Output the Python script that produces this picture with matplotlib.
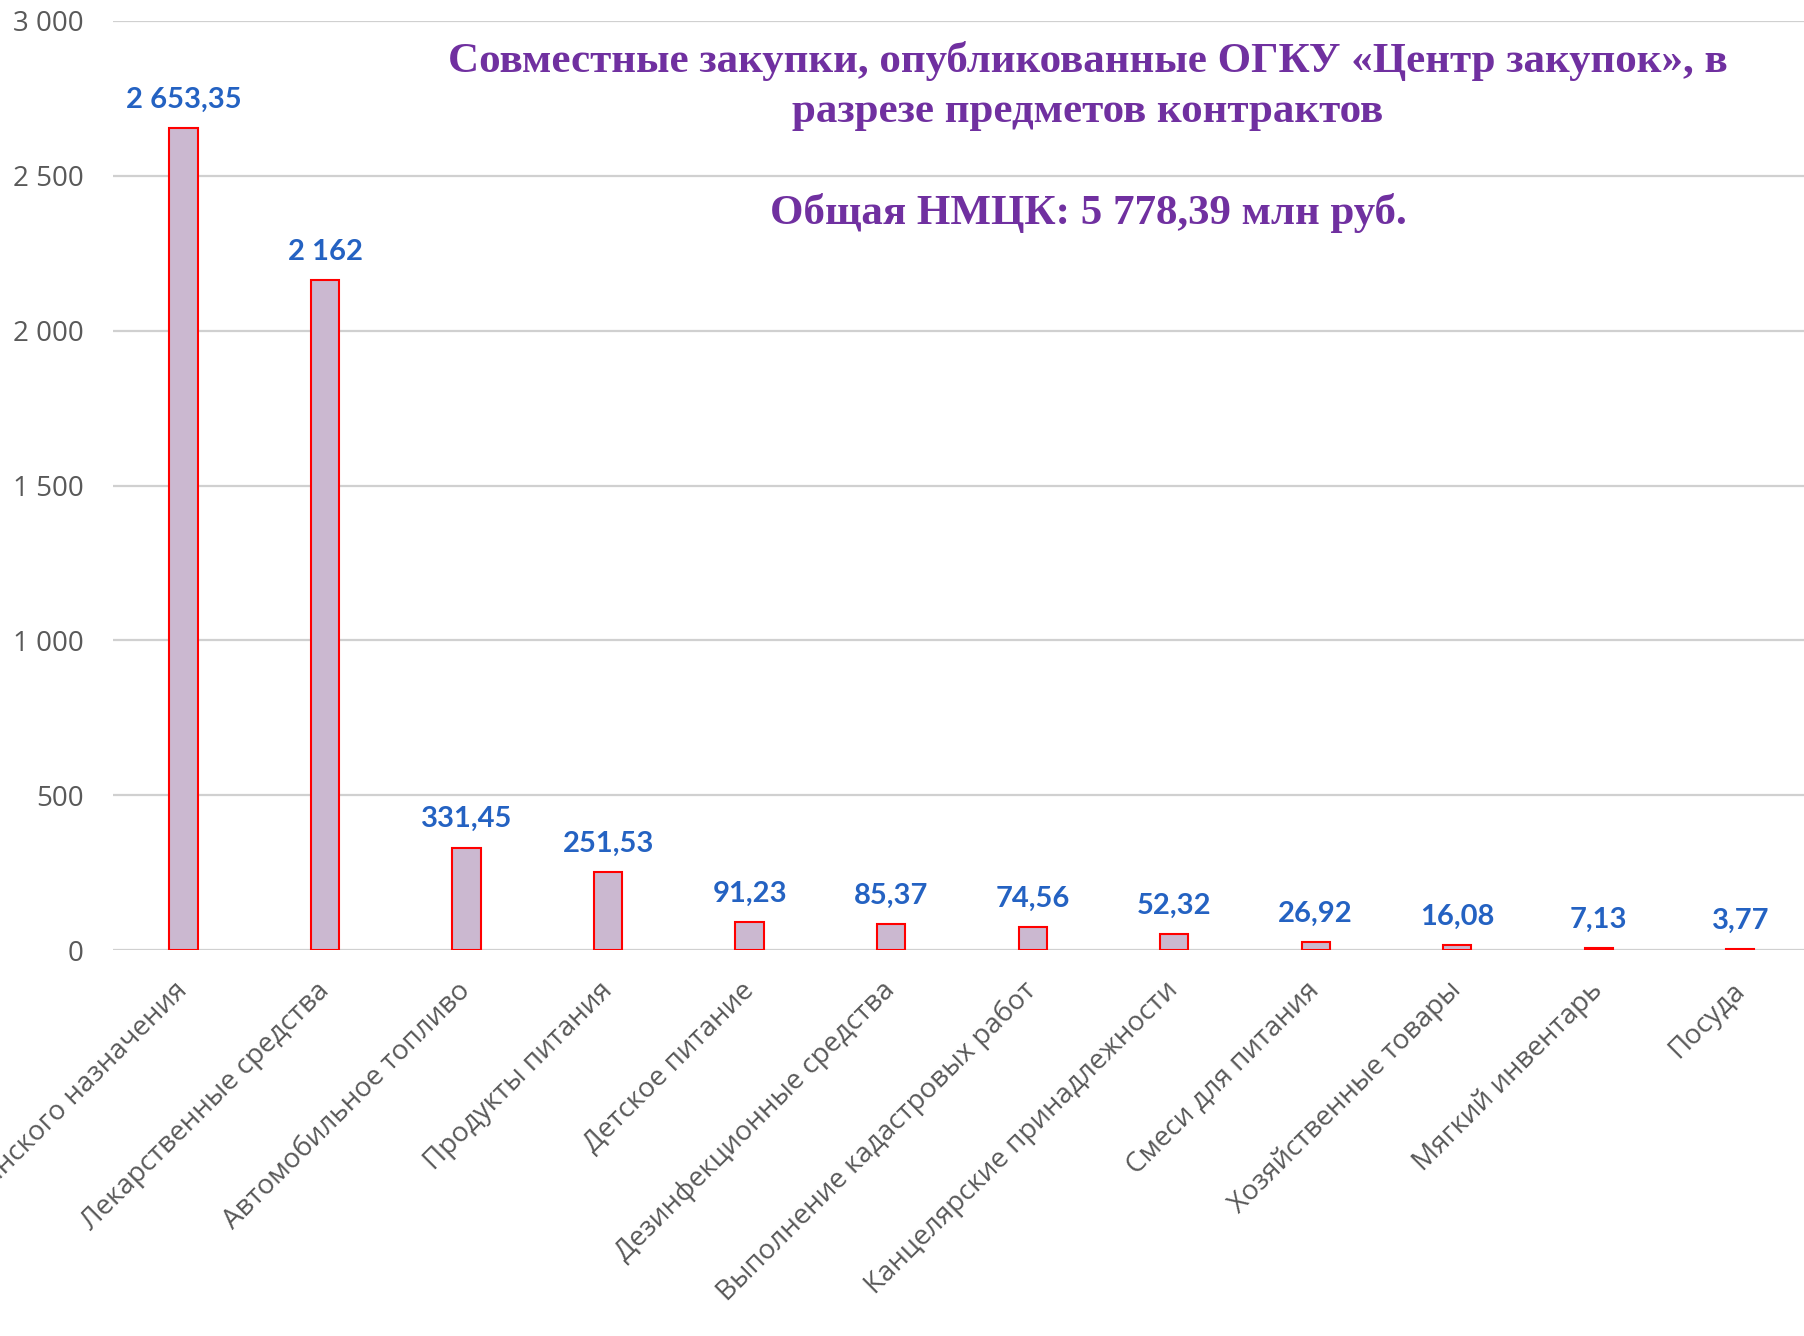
import matplotlib.pyplot as plt
from matplotlib.ticker import FuncFormatter


#------------------------------------------------------------------------------
# Data

categories = [
    "Изделия медицинского назначения",
    "Лекарственные средства",
    "Автомобильное топливо",
    "Продукты питания",
    "Детское питание",
    "Дезинфекционные средства",
    "Выполнение кадастровых работ",
    "Канцелярские принадлежности",
    "Смеси для питания",
    "Хозяйственные товары",
    "Мягкий инвентарь",
    "Посуда",
]
values = [2653.35, 2162, 331.45, 251.53, 91.23, 85.37, 74.56, 52.32, 26.92, 16.08, 7.13, 3.77]
y_ticks = [0, 500, 1000, 1500, 2000, 2500, 3000]

title_main = "Совместные закупки, опубликованные ОГКУ «Центр закупок», в\nразрезе предметов контрактов"
title_total = "Общая НМЦК: 5 778,39 млн руб."


def ru_number(v):
    # 2653.35 -> "2 653,35", 2162 -> "2 162"
    if float(v).is_integer():
        s = "{:,.0f}".format(v)
    else:
        s = "{:,.2f}".format(v)
    return s.replace(",", " ").replace(".", ",")


#------------------------------------------------------------------------------
# Plot

fig = plt.figure(figsize=(18.04, 13.36), dpi=100)
ax = fig.add_axes([0.0625, 0.2887, 0.9375, 0.6958])

x = list(range(len(categories)))
ax.bar(x, values, width=0.2, color="#cbb8d0", edgecolor="#ff0000", linewidth=1.5, zorder=3)

for xi, v in zip(x, values):
    ax.annotate(ru_number(v), (xi, v), xytext=(0, 11), textcoords="offset points",
                ha="center", va="bottom", fontsize=21, fontweight="bold",
                family="Lato", color="#2462c2")

ax.set_xlim(-0.5, 11.45)
ax.set_ylim(0, 3000)
ax.set_yticks(y_ticks)
ax.yaxis.set_major_formatter(FuncFormatter(lambda v, p: ru_number(v)))
ax.grid(axis="y", color="#d0d0d0", linewidth=1.6, zorder=0)
ax.set_xticks(x)
ax.set_xticklabels(categories, rotation=45, ha="right", va="center",
                   rotation_mode="anchor", fontsize=20, family="Open Sans", color="#595959")

ax.tick_params(axis="x", length=0, pad=26)
ax.tick_params(axis="y", length=0, pad=21, labelsize=20, labelcolor="#595959")
for lab in ax.get_yticklabels():
    lab.set_family("Open Sans")
for s in ax.spines.values():
    s.set_visible(False)

fig.text(1088 / 1804, 1 - 86 / 1336, title_main, ha="center", va="center",
         fontsize=31, fontweight="bold", family="Liberation Serif", color="#7030a0",
         linespacing=1.4)
fig.text(1088 / 1804, 1 - 213 / 1336, title_total, ha="center", va="center",
         fontsize=31, fontweight="bold", family="Liberation Serif", color="#7030a0")

plt.savefig("out.png", dpi=100)
